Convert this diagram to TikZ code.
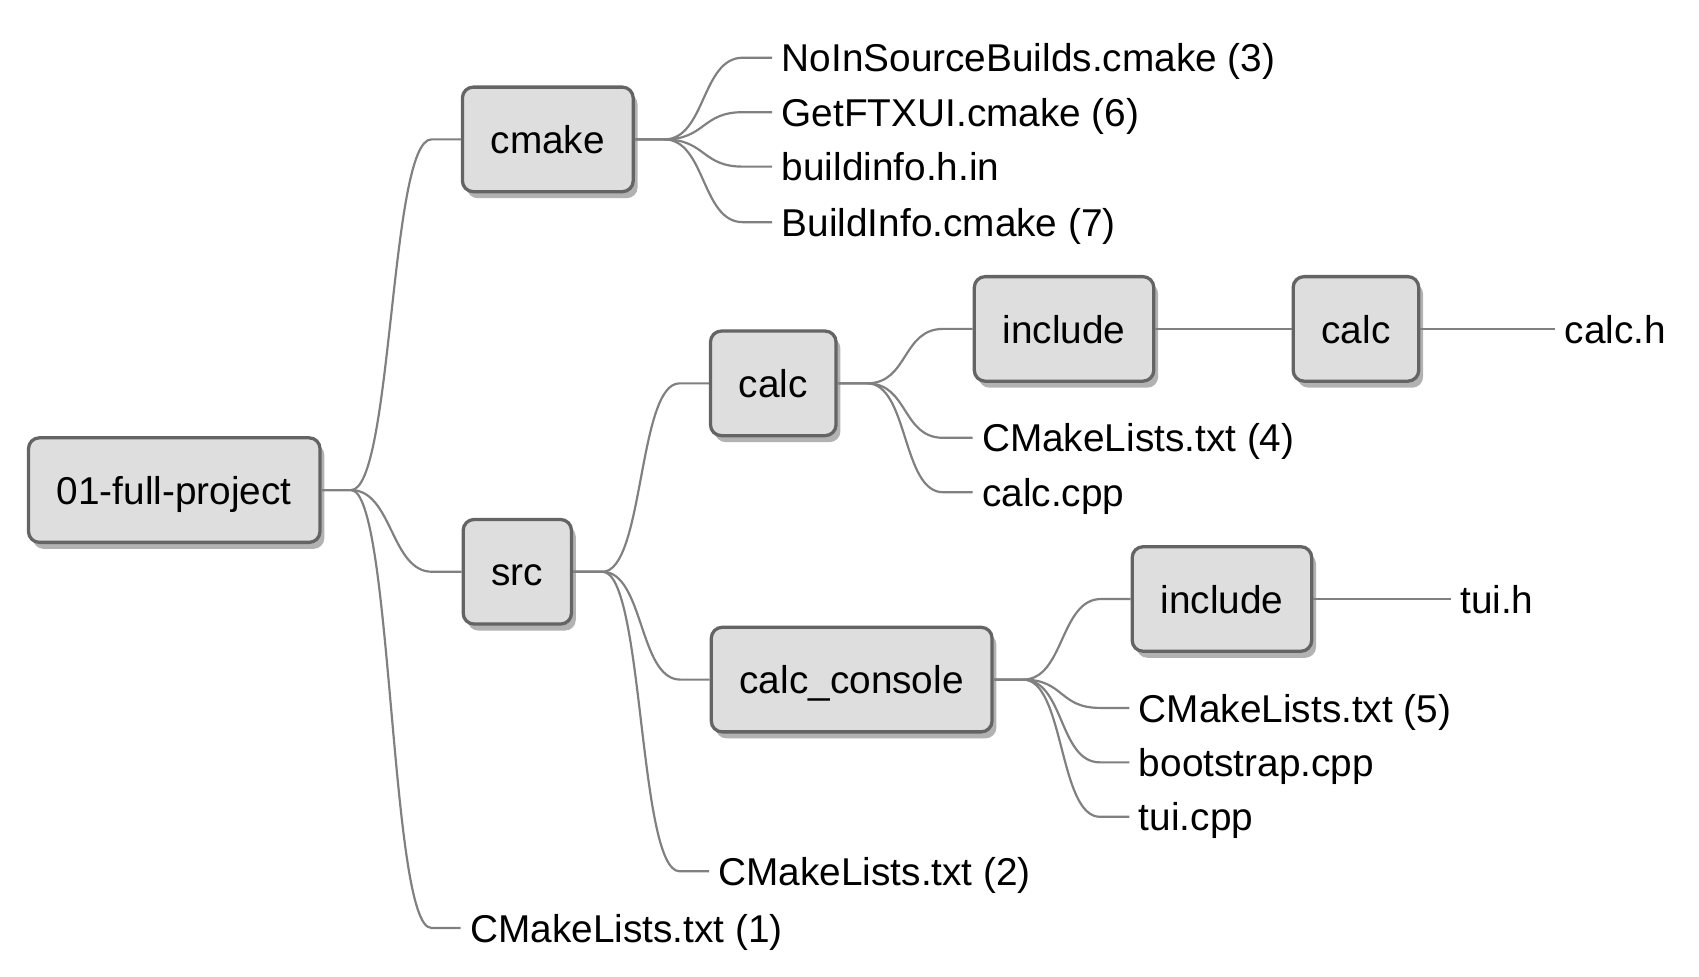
\documentclass[tikz,border=0pt]{standalone}
\usepackage{fontspec}
\setmainfont{Liberation Sans}
\usetikzlibrary{shadows,calc}

\definecolor{boxfill}{RGB}{222,222,222}
\definecolor{boxline}{RGB}{100,100,100}
\definecolor{linkgray}{RGB}{128,128,128}

\tikzset{every picture/.style={line width=0.75pt}}
\tikzset{
  folder/.style={draw=boxline,line width=1.5pt,fill=boxfill,rounded corners=5pt,
    minimum height=48pt,inner xsep=13pt,font=\fontsize{17.8}{21}\selectfont,
    text height=15pt,text depth=2pt,
    drop shadow={shadow xshift=2pt,shadow yshift=-3pt,fill=black,opacity=0.3}},
  leaf/.style={anchor=west,inner xsep=4pt,inner ysep=2pt,font=\fontsize{17.8}{21}\selectfont,
    text height=15pt,text depth=2pt},
  branch/.style={draw=linkgray,line width=1pt,
    to path={-- ++(27,0) .. controls +(38,0) and +(-38,0) .. ($(\tikztotarget)+(-27,0)$) -- (\tikztotarget)}}
}

\begin{document}
\begin{tikzpicture}[x=0.5pt,y=0.5pt,yscale=-1,xscale=1]
	%set diagram: 1560 wide, 897 high
	\useasboundingbox (0,0) rectangle (1560,897);

	%Folders
	\node [folder] (root) at (160,450) {01-full-project};
	\node [folder] (cmake) at (503,128) {cmake};
	\node [folder] (src) at (475,525) {src};
	\node [folder] (calc) at (710,352) {calc};
	\node [folder] (console) at (782,624) {calc\_console};
	\node [folder] (calcinc) at (977,302) {include};
	\node [folder] (calcsub) at (1245,302) {calc};
	\node [folder] (tuiinc) at (1122,550) {include};

	%Files
	\node [leaf] (nosrc) at (709,53) {NoInSourceBuilds.cmake (3)};
	\node [leaf] (ftxui) at (709,103) {GetFTXUI.cmake (6)};
	\node [leaf] (infoin) at (709,153) {buildinfo.h.in};
	\node [leaf] (info) at (709,204) {BuildInfo.cmake (7)};
	\node [leaf] (calch) at (1428,302) {calc.h};
	\node [leaf] (cml4) at (893,402) {CMakeLists.txt (4)};
	\node [leaf] (calccpp) at (893,452) {calc.cpp};
	\node [leaf] (tuih) at (1332,550) {tui.h};
	\node [leaf] (cml5) at (1037,650) {CMakeLists.txt (5)};
	\node [leaf] (boot) at (1037,700) {bootstrap.cpp};
	\node [leaf] (tuicpp) at (1037,750) {tui.cpp};
	\node [leaf] (cml2) at (651,800) {CMakeLists.txt (2)};
	\node [leaf] (cml1) at (423,852) {CMakeLists.txt (1)};

	%Branches
	\foreach \a/\b in {root/cmake,root/src,root/cml1,
		cmake/nosrc,cmake/ftxui,cmake/infoin,cmake/info,
		src/calc,src/console,src/cml2,
		calc/calcinc,calc/cml4,calc/calccpp,calcinc/calcsub,calcsub/calch,
		console/tuiinc,console/cml5,console/boot,console/tuicpp,tuiinc/tuih}
		\draw [branch] (\a.east) to (\b.west);

\end{tikzpicture}
\end{document}
